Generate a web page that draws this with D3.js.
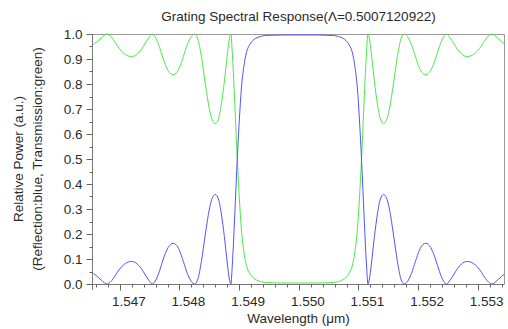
<!DOCTYPE html>
<html><head><meta charset="utf-8">
<script src="https://cdn.jsdelivr.net/npm/d3@7"></script>
<style>
html,body{margin:0;padding:0;background:#fff;}
svg{display:block;font-family:"Liberation Sans",Arial,sans-serif;}
</style></head>
<body>
<svg id="c" width="508" height="329"></svg>
<script>
// ---- data ----
const titleText = "Grating Spectral Response(\u039B=0.5007120922)";
const xLabel = "Wavelength (\u03BCm)";
const yLabel1 = "Relative Power (a.u.)";
const yLabel2 = "(Reflection:blue, Transmission:green)";
const xTicks = [1.547, 1.548, 1.549, 1.550, 1.551, 1.552, 1.553];
const yTicks = [0.0, 0.1, 0.2, 0.3, 0.4, 0.5, 0.6, 0.7, 0.8, 0.9, 1.0];
const xDomain = [1.54655, 1.55344];
const yDomain = [0, 1];

const wavelength = [
 1.546555,1.546622,1.546690,1.546740,1.546785,1.546832,1.546891,1.546958,1.547025,1.547092,
 1.547142,1.547193,1.547243,1.547293,1.547360,1.547427,1.547486,1.547540,1.547595,1.547662,
 1.547729,1.547796,1.547847,1.547892,1.547939,1.547998,1.548065,1.548132,1.548199,1.548254,
 1.548308,1.548367,1.548434,1.548501,1.548551,1.548601,1.548652,1.548702,1.548752,1.548803,
 1.548836,1.548861,1.548886,1.548920,1.548953,1.548979,1.549004,1.549037,1.549079,1.549121,
 1.549171,1.549222,1.549281,1.549356,1.549440,1.549557,1.549691,1.549859,1.550010,
 1.550161,1.550329,1.550463,1.550580,1.550664,1.550739,1.550798,1.550849,1.550899,1.550941,
 1.550983,1.551016,1.551041,1.551067,1.551100,1.551134,1.551159,1.551184,1.551217,1.551268,
 1.551318,1.551368,1.551419,1.551469,1.551519,1.551586,1.551653,1.551712,1.551766,1.551821,
 1.551888,1.551955,1.552022,1.552081,1.552128,1.552173,1.552224,1.552291,1.552358,1.552425,
 1.552480,1.552534,1.552593,1.552660,1.552727,1.552777,1.552827,1.552878,1.552928,1.552995,
 1.553062,1.553129,1.553188,1.553235,1.553280,1.553330,1.553398,1.553465
];
const reflection = [
 0.043,0.030,0.015,0.005,0.000,0.006,0.022,0.047,0.068,0.082,
 0.088,0.090,0.088,0.080,0.062,0.036,0.015,0.000,0.012,0.050,
 0.100,0.140,0.158,0.163,0.158,0.135,0.090,0.042,0.010,0.000,
 0.020,0.090,0.200,0.300,0.345,0.358,0.340,0.280,0.190,0.080,
 0.020,0.000,0.080,0.240,0.420,0.550,0.660,0.780,0.870,0.925,
 0.955,0.972,0.983,0.990,0.994,0.995,0.996,0.996,0.996,
 0.996,0.996,0.995,0.994,0.990,0.983,0.972,0.955,0.925,0.870,
 0.780,0.660,0.550,0.420,0.240,0.080,0.000,0.020,0.080,0.190,
 0.280,0.340,0.358,0.345,0.300,0.200,0.090,0.020,0.000,0.010,
 0.042,0.090,0.135,0.158,0.163,0.158,0.140,0.100,0.050,0.012,
 0.000,0.015,0.036,0.062,0.080,0.088,0.090,0.088,0.082,0.068,
 0.047,0.022,0.006,0.000,0.005,0.015,0.030,0.043
];
const transmission = [
 0.957,0.970,0.985,0.995,1.000,0.994,0.978,0.953,0.932,0.918,
 0.912,0.910,0.912,0.920,0.938,0.964,0.985,1.000,0.988,0.950,
 0.900,0.860,0.842,0.837,0.842,0.865,0.910,0.958,0.990,1.000,
 0.980,0.910,0.800,0.700,0.655,0.642,0.660,0.720,0.810,0.920,
 0.980,1.000,0.920,0.760,0.580,0.450,0.340,0.220,0.130,0.075,
 0.045,0.028,0.017,0.010,0.006,0.005,0.004,0.004,0.004,
 0.004,0.004,0.005,0.006,0.010,0.017,0.028,0.045,0.075,0.130,
 0.220,0.340,0.450,0.580,0.760,0.920,1.000,0.980,0.920,0.810,
 0.720,0.660,0.642,0.655,0.700,0.800,0.910,0.980,1.000,0.990,
 0.958,0.910,0.865,0.842,0.837,0.842,0.860,0.900,0.950,0.988,
 1.000,0.985,0.964,0.938,0.920,0.912,0.910,0.912,0.918,0.932,
 0.953,0.978,0.994,1.000,0.995,0.985,0.970,0.957
];

// ---- layout ----
const svg = d3.select("#c");
const L = 93, R = 504, T = 34, B = 284;
const x = d3.scaleLinear().domain(xDomain).range([L, R]);
const y = d3.scaleLinear().domain(yDomain).range([B, T]);
const textCol = "#2a2a2a";
const fs = 13.5;

svg.append("defs").append("clipPath").attr("id","clip")
  .append("rect").attr("x",L).attr("y",T-1).attr("width",R-L).attr("height",B-T+2);

// frame (top & right)
svg.append("path").attr("d",`M${L},${T+0.5}H${R+0.5}V${B}`)
  .attr("fill","none").attr("stroke","#999").attr("stroke-width",1);

// curves
const rows = wavelength.map((w,i)=>({w, r:reflection[i], t:transmission[i]}));
const lineR = d3.line().x(d=>x(d.w)).y(d=>y(d.r)).curve(d3.curveMonotoneX);
const lineT = d3.line().x(d=>x(d.w)).y(d=>y(d.t)).curve(d3.curveMonotoneX);
const g = svg.append("g").attr("clip-path","url(#clip)");
g.append("path").datum(rows).attr("d",lineT).attr("fill","none")
  .attr("stroke","#4ae84a").attr("stroke-width",1);
g.append("path").datum(rows).attr("d",lineR).attr("fill","none")
  .attr("stroke","#5252ff").attr("stroke-width",1);

// x axis
const xMinor = d3.range(1.5466, 1.55345, 0.0002).map(v=>+v.toFixed(4));
const xAxis = svg.append("g").attr("transform",`translate(0,${B+0.5})`);
xAxis.append("path").attr("d",`M${L-6},0H${R+0.5}`).attr("stroke","#777").attr("fill","none");
xAxis.selectAll(".mn").data(xMinor).join("line")
  .attr("x1",d=>Math.round(x(d))+0.5).attr("x2",d=>Math.round(x(d))+0.5)
  .attr("y1",0).attr("y2",3).attr("stroke","#666");
xAxis.selectAll(".mj").data(xTicks).join("line")
  .attr("x1",d=>Math.round(x(d))+0.5).attr("x2",d=>Math.round(x(d))+0.5)
  .attr("y1",0).attr("y2",6).attr("stroke","#666");
xAxis.selectAll("text").data(xTicks).join("text")
  .attr("x",d=>x(d)+9).attr("y",21).attr("text-anchor","middle")
  .attr("font-size",fs).attr("fill",textCol).text(d=>d3.format(".3f")(d));

// y axis
const yMinor = d3.range(0, 1.0001, 0.05);
const yAxis = svg.append("g").attr("transform",`translate(${L-0.5},0)`);
yAxis.append("path").attr("d",`M0,${T}V${B+6}`).attr("stroke","#777").attr("fill","none");
yAxis.selectAll(".mn").data(yMinor).join("line")
  .attr("y1",d=>Math.round(y(d))+0.5).attr("y2",d=>Math.round(y(d))+0.5)
  .attr("x1",-3).attr("x2",0).attr("stroke","#666");
yAxis.selectAll(".mj").data(yTicks).join("line")
  .attr("y1",d=>Math.round(y(d))+0.5).attr("y2",d=>Math.round(y(d))+0.5)
  .attr("x1",-6).attr("x2",0).attr("stroke","#666");
yAxis.selectAll("text").data(yTicks).join("text")
  .attr("x",-10).attr("y",d=>y(d)).attr("dy","0.36em").attr("text-anchor","end")
  .attr("font-size",fs).attr("fill",textCol).text(d=>d3.format(".1f")(d));

// titles
svg.append("text").attr("x",(L+R)/2).attr("y",21).attr("text-anchor","middle")
  .attr("font-size",fs).attr("fill",textCol).text(titleText);
svg.append("text").attr("x",(L+R)/2).attr("y",323).attr("text-anchor","middle")
  .attr("font-size",fs).attr("fill",textCol).text(xLabel);
svg.append("text").attr("transform",`translate(23,${(T+B)/2}) rotate(-90)`)
  .attr("text-anchor","middle").attr("font-size",fs).attr("fill",textCol).text(yLabel1);
svg.append("text").attr("transform",`translate(42,${(T+B)/2}) rotate(-90)`)
  .attr("text-anchor","middle").attr("font-size",fs).attr("fill",textCol).text(yLabel2);
</script>
</body></html>
